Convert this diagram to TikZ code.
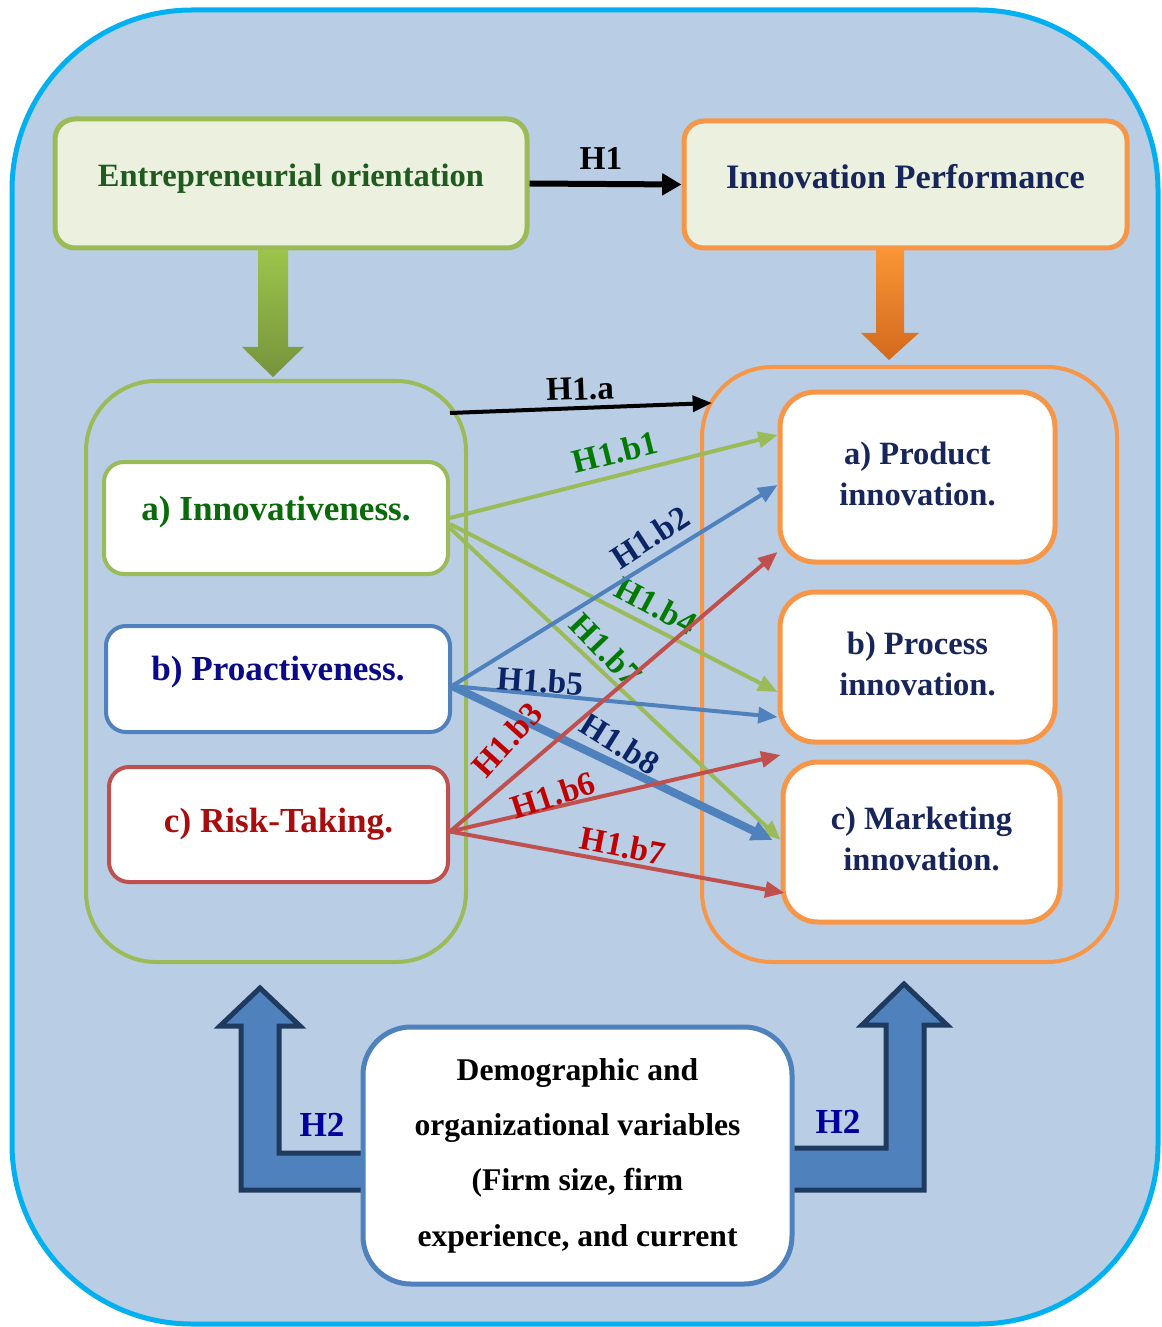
\documentclass[tikz,border=0pt]{standalone}
\usepackage{fontspec}
\setmainfont{Liberation Serif}
\usepackage{tikz}
\usetikzlibrary{arrows.meta}

\definecolor{bgblue}{HTML}{B9CDE5}
\definecolor{rimcyan}{HTML}{00B0F0}
\definecolor{headfill}{HTML}{EBF1DE}
\definecolor{eogreen}{HTML}{9BBB59}
\definecolor{iporange}{HTML}{F79646}
\definecolor{problue}{HTML}{4F81BD}
\definecolor{riskred}{HTML}{C0504D}
\definecolor{navyrim}{HTML}{1F3A5F}
\definecolor{eotext}{HTML}{1F5A1F}
\definecolor{ipnavy}{HTML}{17255A}
\definecolor{innovtext}{HTML}{086A08}
\definecolor{protext}{HTML}{0A0A88}
\definecolor{risktext}{HTML}{A80C0C}
\definecolor{lblgreen}{HTML}{007A00}
\definecolor{lblnavy}{HTML}{0A2466}
\definecolor{lblred}{HTML}{C00000}
\definecolor{htwo}{HTML}{00009C}
\definecolor{grnA}{HTML}{9CC44B}
\definecolor{grnB}{HTML}{76933C}
\definecolor{orgA}{HTML}{F99534}
\definecolor{orgB}{HTML}{D2691E}

\newlength\px
\setlength\px{0.02cm}

\begin{document}
\begin{tikzpicture}[x=0.02cm, y=-0.02cm,
    headbox/.style={draw, fill=headfill, line width=5\px, rounded corners=20\px,
        inner sep=0pt, font=\fontsize{18.5}{22}\selectfont\bfseries},
    dimbox/.style={draw, fill=white, line width=4\px, rounded corners=20\px,
        inner sep=0pt, font=\fontsize{20}{24}\selectfont\bfseries},
    outbox/.style={draw=iporange, fill=white, line width=5\px, rounded corners=35\px,
        inner sep=0pt, align=center, text=ipnavy,
        font=\fontsize{18.5}{23}\selectfont\bfseries},
    grp/.style={draw, line width=4\px, rounded corners=70\px, inner sep=0pt},
    link/.style={line width=4\px, -{Triangle[length=11pt,width=9pt]}},
    hyp/.style={font=\fontsize{19}{22}\selectfont\bfseries},
    htwoarrow/.style={draw=navyrim, fill=problue, line width=5\px, line join=miter}
]
    \useasboundingbox (0,0) rectangle (1161,1327);

    % Background panel
    \draw[rimcyan, fill=bgblue, line width=5\px, rounded corners=180\px]
        (12,10) rectangle (1158,1324);

    % Top level constructs
    \node[headbox, draw=eogreen, text=eotext, minimum width=472\px, minimum height=129\px]
        (eo) at (291,183.5) {\raisebox{9.5pt}{Entrepreneurial orientation}};
    \node[headbox, draw=iporange, text=ipnavy, minimum width=443\px, minimum height=127\px,
          font=\fontsize{19.5}{23}\selectfont\bfseries]
        (ip) at (905.5,184.5) {\raisebox{9.5pt}{Innovation Performance}};

    \draw[line width=6\px, -{Triangle[length=11pt,width=12pt]}] (eo.east) -- (ip.west);
    \node[hyp] (h1) at (601,158) {H1};

    % Block arrows down
    \shade[top color=grnA, bottom color=grnB]
        (258,250) -- (288,250) -- (288,347) -- (304,347) -- (273,377)
        -- (242,347) -- (258,347) -- cycle;
    \shade[top color=orgA, bottom color=orgB]
        (876,250) -- (904,250) -- (904,333) -- (919,333) -- (889,360)
        -- (861,333) -- (876,333) -- cycle;

    % Groups
    \node[grp, draw=eogreen, minimum width=380\px, minimum height=581\px] (egrp) at (276,671.5) {};
    \node[grp, draw=iporange, minimum width=415\px, minimum height=595\px] (igrp) at (909.5,664.5) {};

    % EO dimensions
    \node[dimbox, draw=eogreen, text=innovtext, minimum width=344\px, minimum height=112\px]
        (innov) at (276,518) {\raisebox{11pt}{a) Innovativeness.}};
    \node[dimbox, draw=problue, text=protext, minimum width=344\px, minimum height=106\px]
        (proact) at (278,679) {\raisebox{12pt}{b) Proactiveness.}};
    \node[dimbox, draw=riskred, text=risktext, minimum width=339\px, minimum height=115\px]
        (risk) at (278.5,824.5) {\raisebox{-4pt}{c) Risk-Taking.}};

    % Innovation types
    \node[outbox, minimum width=275\px, minimum height=170\px] (prod) at (917.5,477)
        {\raisebox{12.5pt}{\begin{tabular}{@{}c@{}}a) Product\\innovation.\end{tabular}}};
    \node[outbox, minimum width=275\px, minimum height=150\px] (proc) at (917.5,667)
        {\raisebox{14.5pt}{\begin{tabular}{@{}c@{}}b) Process\\innovation.\end{tabular}}};
    \node[outbox, minimum width=277\px, minimum height=160\px] (mkt) at (921.5,842)
        {\raisebox{10.5pt}{\begin{tabular}{@{}c@{}}c) Marketing\\innovation.\end{tabular}}};

    % H2 arrows
    \draw[htwoarrow] (380,1153) -- (279,1153) -- (279,1026) -- (300,1026) -- (260,988)
        -- (220,1026) -- (241,1026) -- (241,1190) -- (380,1190) -- cycle;
    \draw[htwoarrow] (775,1148) -- (886,1148) -- (886,1025) -- (862,1025) -- (904,984)
        -- (947,1025) -- (924,1025) -- (924,1190) -- (775,1190) -- cycle;

    \node[draw=problue, fill=white, line width=5\px, rounded corners=48\px, inner sep=0pt,
          minimum width=429\px, minimum height=257\px, align=center,
          font=\fontsize{18}{31.5}\selectfont\bfseries]
        (ctrl) at (577.5,1155.5)
        {Demographic and\\organizational variables\\(Firm size, firm\\experience, and current};

    \node[hyp, text=htwo, font=\fontsize{20}{24}\selectfont\bfseries] (h2l) at (322,1125) {H2};
    \node[hyp, text=htwo, font=\fontsize{20}{24}\selectfont\bfseries] (h2r) at (838,1122) {H2};

    % H1.a
    \coordinate (h1a-from) at (450,413);
    \coordinate (h1a-to) at (712,403);
    \draw[link, black] (h1a-from) -- (h1a-to);
    \node[hyp, rotate=2] (h1a) at (580,389) {H1.a};

    % Innovativeness links
    \draw[link, eogreen] ([yshift=0\px]innov.east) -- ([yshift=42\px]prod.west);
    \draw[link, eogreen] ([yshift=-6\px]innov.east) -- ([yshift=-25\px]proc.west);
    \draw[link, eogreen] ([yshift=-10\px]innov.east) -- ([yshift=2\px]mkt.west);
    \node[hyp, text=lblgreen, rotate=14] (b1) at (615,452) {H1.b1};
    \node[hyp, text=lblgreen, rotate=-28] (b4) at (656,606) {H1.b4};
    \node[hyp, text=lblgreen, rotate=-46] (b7g) at (606,650) {H1.b7};

    % Proactiveness links
    \draw[link, problue] ([yshift=-7\px]proact.east) -- ([yshift=-8\px]prod.west);
    \draw[link, problue] ([yshift=-7\px]proact.east) -- ([yshift=-50\px]proc.west);
    \draw[line width=8\px, problue, -{Triangle[length=12pt,width=11pt]}]
        ([yshift=-7\px]proact.east) -- ([xshift=-8\px, yshift=2\px]mkt.west);
    \node[hyp, text=lblnavy, rotate=33] (b2) at (650,537) {H1.b2};
    \node[hyp, text=lblnavy, rotate=-4] (b5) at (540,681) {H1.b5};
    \node[hyp, text=lblnavy, rotate=-32] (b8) at (620,744) {H1.b8};

    % Risk-taking links
    \draw[link, riskred] ([yshift=-7\px]risk.east) -- ([yshift=-75\px]prod.west);
    \draw[link, riskred] ([yshift=-7\px]risk.east) -- ([yshift=87\px]mkt.west);
    \draw[link, riskred] ([yshift=-7\px]risk.east) -- ([xshift=4\px, yshift=-51\px]mkt.west);
    \node[hyp, text=lblred, rotate=48] (b3) at (507,740) {H1.b3};
    \node[hyp, text=lblred, rotate=18] (b6) at (553,795) {H1.b6};
    \node[hyp, text=lblred, rotate=-11] (b7r) at (623,846) {H1.b7};
\end{tikzpicture}
\end{document}
